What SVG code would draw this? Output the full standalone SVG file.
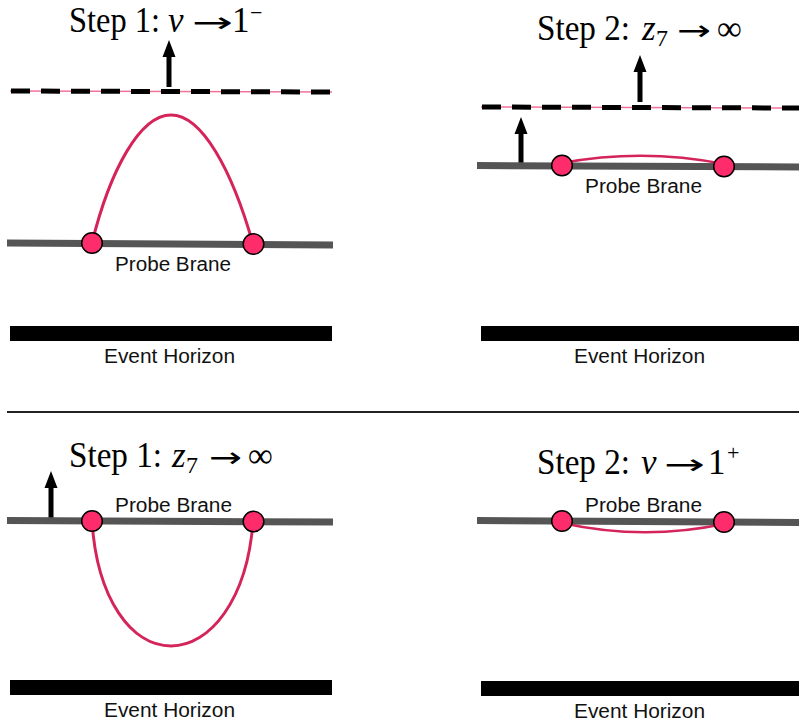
<svg xmlns="http://www.w3.org/2000/svg" xmlns:xlink="http://www.w3.org/1999/xlink" width="799" height="728" viewBox="0 0 799 728">
<style>
.title{font-family:"Liberation Serif","Times New Roman",serif;font-size:35px;fill:#000}
.it{font-style:italic}
.arr{font-family:"DejaVu Sans","Liberation Sans",sans-serif;font-size:28px;fill:#000}
.sub{font-family:"Liberation Serif","Times New Roman",serif;font-size:24px;fill:#000}
.sup{font-family:"Liberation Serif","Times New Roman",serif;font-size:22px;fill:#000}
.lbl{font-family:"Liberation Sans",Arial,sans-serif;font-size:20px;fill:#111}
.brane{stroke:#555;stroke-width:7;fill:none}
.horizon{fill:#000}
.str{stroke:#d4245a;stroke-width:3;fill:none}
.str2{stroke:#d4245a;stroke-width:2.5;fill:none}
.end{fill:#ff2c6c;stroke:#000;stroke-width:1.5}
.dash{stroke:#000;stroke-width:5;stroke-dasharray:19 11;fill:none}
.pink{stroke:#f27398;stroke-width:1.5;fill:none}
.sep{stroke:#222;stroke-width:2}
</style>
<defs>
<path id="uparrow" d="M0,0 L6.5,17 L2.5,17 L2.5,47 L-2.5,47 L-2.5,17 L-6.5,17 Z" fill="#000"/>
</defs>

<g id="panel1">
<text class="title" x="69" y="31.5" textLength="91" lengthAdjust="spacingAndGlyphs">Step 1:</text>
<text class="title it" x="168" y="31.5">v</text>
<text class="arr" x="192" y="31.5" textLength="41" lengthAdjust="spacingAndGlyphs">→</text>
<text class="title" x="232" y="31.5">1</text>
<text class="sup" x="250" y="20">−</text>
<line class="pink" x1="10" y1="91" x2="332" y2="92"/>
<line class="dash" x1="11" y1="91" x2="330" y2="92"/>
<use xlink:href="#uparrow" x="169" y="40"/>
<line class="brane" x1="7" y1="243" x2="333" y2="245"/>
<path class="str" d="M92,243 C110,170 140,115 171,115 C202,115 232,170 253,244"/>
<circle class="end" cx="92" cy="243" r="10.3"/>
<circle class="end" cx="253.5" cy="244" r="10.3"/>
<text class="lbl" x="115" y="271" textLength="116" lengthAdjust="spacingAndGlyphs">Probe Brane</text>
<rect class="horizon" x="10" y="326" width="322" height="15"/>
<text class="lbl" x="104" y="363" textLength="131" lengthAdjust="spacingAndGlyphs">Event Horizon</text>
</g>

<g id="panel2">
<text class="title" x="537" y="40" textLength="93" lengthAdjust="spacingAndGlyphs">Step 2:</text>
<text class="title it" x="642" y="40">z</text>
<text class="sub" x="656" y="46">7</text>
<text class="arr" x="677" y="40" textLength="34" lengthAdjust="spacingAndGlyphs">→</text>
<text class="title" x="717" y="40">∞</text>
<line class="pink" x1="481" y1="107" x2="799" y2="108"/>
<line class="dash" x1="482" y1="107" x2="799" y2="108"/>
<use xlink:href="#uparrow" x="640" y="55"/>
<use xlink:href="#uparrow" x="521" y="117"/>
<line class="brane" x1="477" y1="165.5" x2="799" y2="167"/>
<path class="str2" d="M562,163 Q643,148 724,164"/>
<circle class="end" cx="562" cy="165.5" r="10.3"/>
<circle class="end" cx="724" cy="166.5" r="10.3"/>
<text class="lbl" x="585" y="193" textLength="117" lengthAdjust="spacingAndGlyphs">Probe Brane</text>
<rect class="horizon" x="481" y="326" width="318" height="15"/>
<text class="lbl" x="574" y="363" textLength="131" lengthAdjust="spacingAndGlyphs">Event Horizon</text>
</g>

<line id="separator" class="sep" x1="7" y1="412" x2="799" y2="412"/>

<g id="panel3">
<text class="title" x="69" y="467" textLength="93" lengthAdjust="spacingAndGlyphs">Step 1:</text>
<text class="title it" x="172" y="467">z</text>
<text class="sub" x="186" y="473">7</text>
<text class="arr" x="209" y="467" textLength="33" lengthAdjust="spacingAndGlyphs">→</text>
<text class="title" x="248" y="467">∞</text>
<use xlink:href="#uparrow" x="51" y="471"/>
<line class="brane" x1="7" y1="520.5" x2="333" y2="522"/>
<path class="str" d="M92,521 C97,600 132,646 171,646 C210,646 247,600 253,522"/>
<circle class="end" cx="92" cy="521" r="10.3"/>
<circle class="end" cx="253.5" cy="521.5" r="10.3"/>
<text class="lbl" x="115" y="512" textLength="117" lengthAdjust="spacingAndGlyphs">Probe Brane</text>
<rect class="horizon" x="10" y="680" width="322" height="15"/>
<text class="lbl" x="104" y="717" textLength="131" lengthAdjust="spacingAndGlyphs">Event Horizon</text>
</g>

<g id="panel4">
<text class="title" x="537" y="474" textLength="93" lengthAdjust="spacingAndGlyphs">Step 2:</text>
<text class="title it" x="641" y="474">v</text>
<text class="arr" x="664" y="474" textLength="41" lengthAdjust="spacingAndGlyphs">→</text>
<text class="title" x="708" y="474">1</text>
<text class="sup" x="727" y="460">+</text>
<line class="brane" x1="477" y1="520.5" x2="799" y2="522.5"/>
<path class="str2" d="M562,523 Q643,541 724,524"/>
<circle class="end" cx="562" cy="521" r="10.3"/>
<circle class="end" cx="724" cy="522" r="10.3"/>
<text class="lbl" x="585" y="512" textLength="117" lengthAdjust="spacingAndGlyphs">Probe Brane</text>
<rect class="horizon" x="481" y="681" width="318" height="15"/>
<text class="lbl" x="574" y="718" textLength="131" lengthAdjust="spacingAndGlyphs">Event Horizon</text>
</g>
</svg>
